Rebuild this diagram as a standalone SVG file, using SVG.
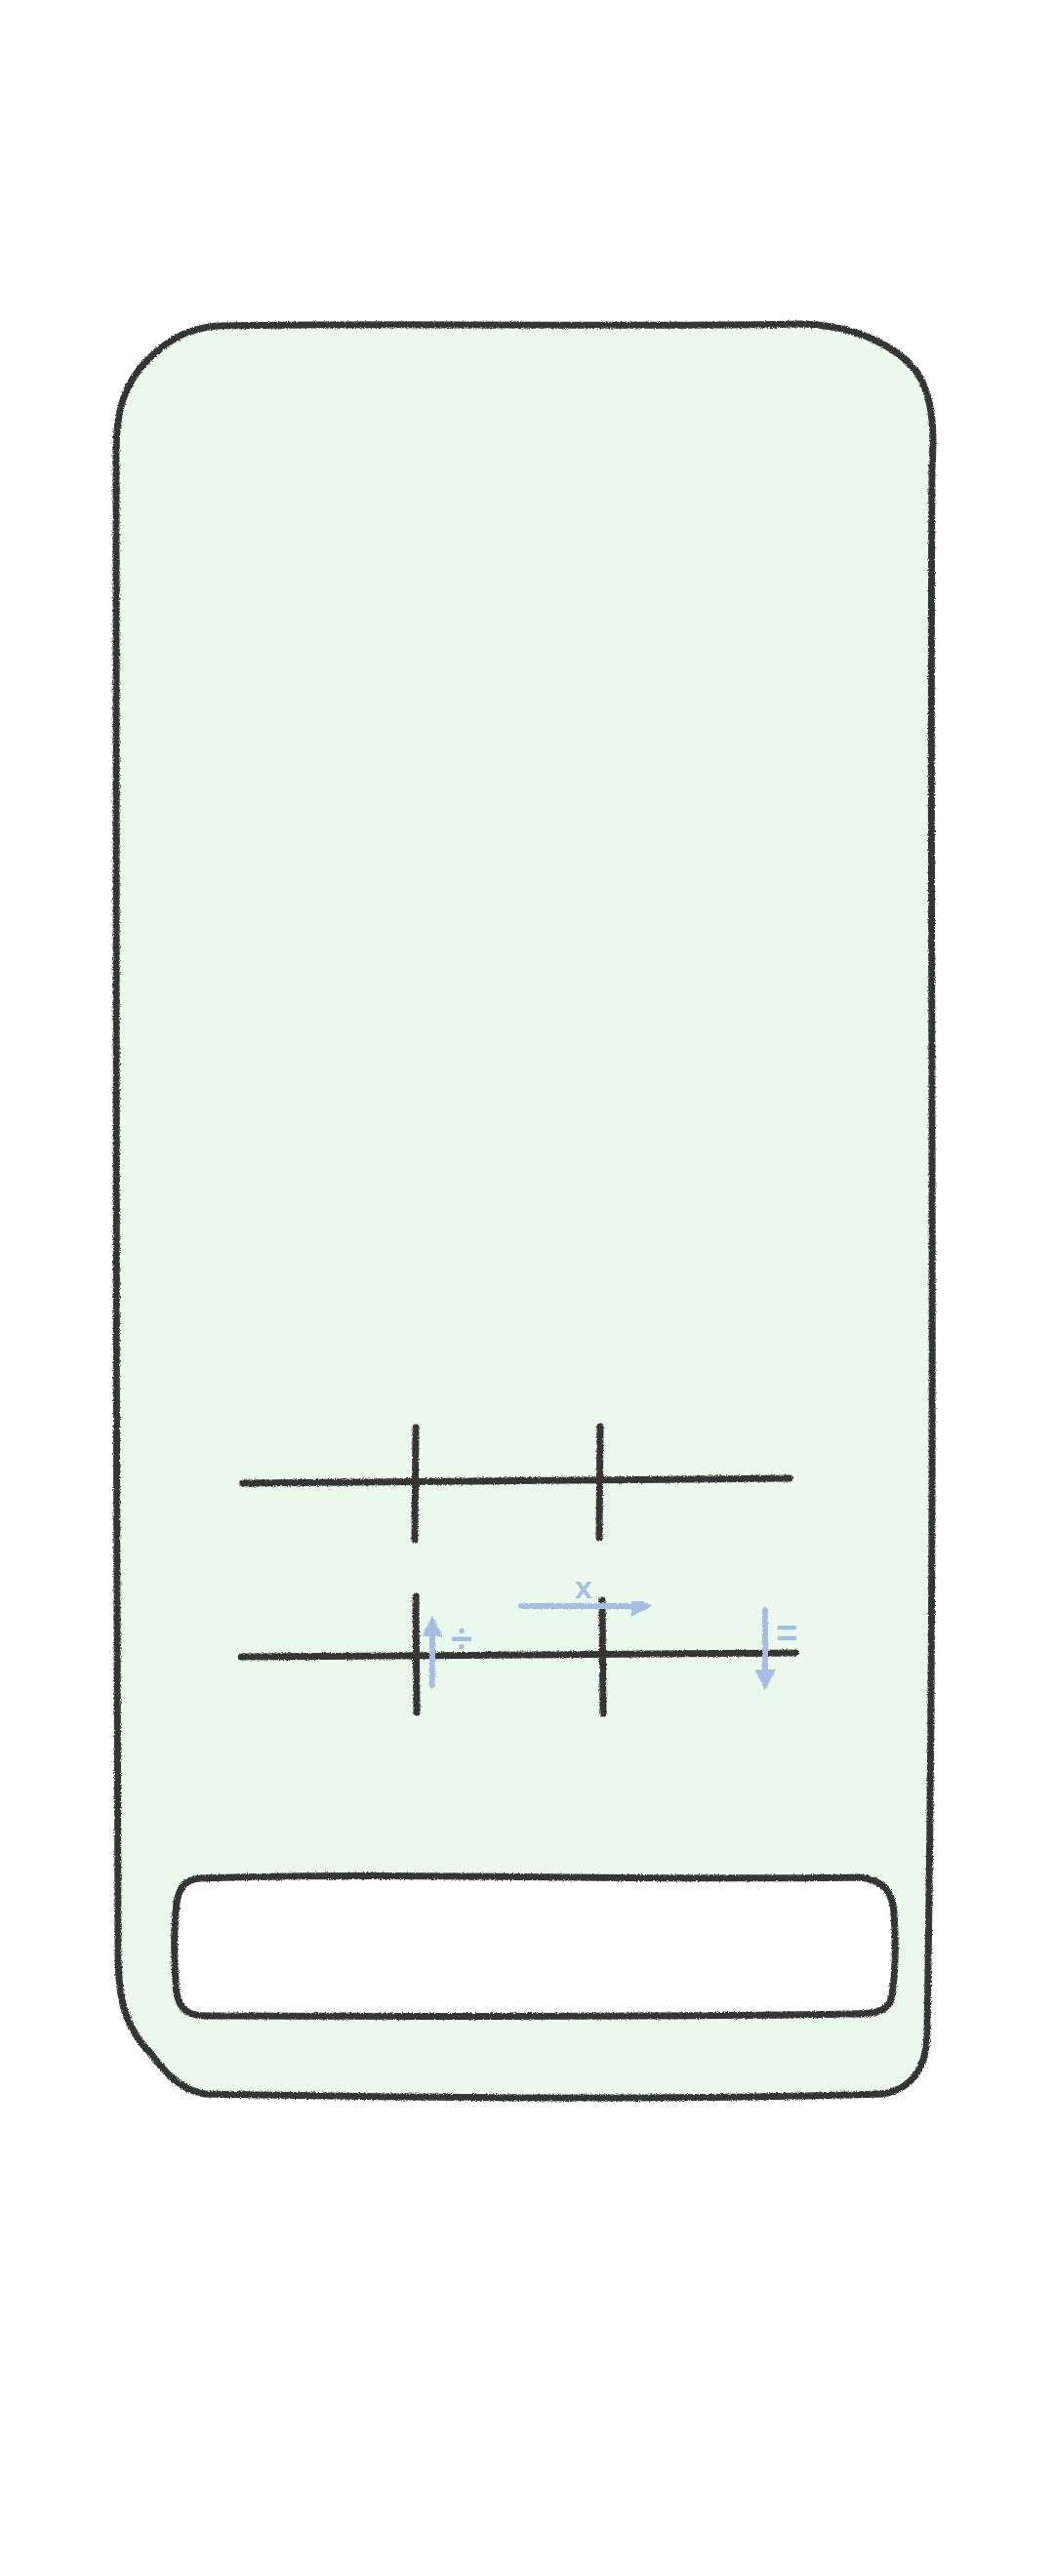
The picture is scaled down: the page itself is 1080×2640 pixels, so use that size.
<svg xmlns="http://www.w3.org/2000/svg" width="1080" height="2640" viewBox="0 0 1080 2640">
  <defs>
    <filter id="pencil" x="-5%" y="-5%" width="110%" height="110%">
      <feTurbulence type="fractalNoise" baseFrequency="0.9" numOctaves="2" seed="3" result="n"/>
      <feDisplacementMap in="SourceGraphic" in2="n" scale="3.5" xChannelSelector="R" yChannelSelector="G"/>
    </filter>
    <marker id="bluehead" viewBox="0 0 10 10" refX="7" refY="5" markerWidth="3.6" markerHeight="3.6" orient="auto-start-reverse" markerUnits="strokeWidth">
      <path d="M0,0 L10,5 L0,10 Z" fill="#a8bde2"/>
    </marker>
    <style>
      .ink { fill: none; stroke: #363636; stroke-width: 7; stroke-linecap: round; stroke-linejoin: round; }
      .blue { fill: none; stroke: #a8bde2; stroke-width: 6; stroke-linecap: round; }
      .sym { fill: #a8bde2; font-family: "Liberation Sans", Arial, sans-serif; font-weight: bold; text-anchor: middle; }
    </style>
  </defs>
  <rect width="1080" height="2640" fill="#ffffff"/>

  <g id="phone" filter="url(#pencil)">
    <path class="ink" style="fill:#ebf9ec" d="M222,334 C420,330 640,336 822,332 C880,334 920,356 940,382 C958,410 957,450 955,480 C952,900 960,1500 950,2080 C950,2120 935,2140 905,2146 C700,2152 420,2150 210,2146 C185,2142 170,2125 155,2105 C128,2078 121,2050 121,2000 C118,1500 120,900 119,470 C118,420 128,392 152,368 C175,345 198,336 222,334 Z"/>
  </g>

  <g id="grid" filter="url(#pencil)">
    <path class="ink" d="M249,1520 L809,1515"/>
    <path class="ink" d="M426,1463 L425,1578"/>
    <path class="ink" d="M615,1462 L614,1576"/>
    <path class="ink" d="M247,1698 L815,1694"/>
    <path class="ink" d="M426,1636 L427,1755"/>
    <path class="ink" d="M617,1640 L618,1756"/>
  </g>

  <g id="connectors" filter="url(#pencil)">
    <path class="blue" d="M443,1727 L443,1662" marker-end="url(#bluehead)"/>
    <path class="blue" d="M534,1646 L662,1646" marker-end="url(#bluehead)"/>
    <path class="blue" d="M784,1650 L784,1726" marker-end="url(#bluehead)"/>
  </g>

  <g id="labels">
    <text class="sym" x="473" y="1693" font-size="40">÷</text>
    <text class="sym" x="598" y="1638" font-size="32">x</text>
    <text class="sym" x="806" y="1687" font-size="38">=</text>
  </g>

  <g id="input" filter="url(#pencil)">
    <path class="ink" style="fill:#ffffff" d="M205,1925 C400,1918 650,1928 880,1924 C905,1926 915,1940 916,1960 C918,1990 918,2030 912,2052 C905,2064 890,2064 870,2064 C650,2068 400,2066 210,2066 C190,2066 180,2056 180,2030 C178,2000 178,1975 181,1950 C184,1932 192,1926 205,1925 Z"/>
  </g>
</svg>
